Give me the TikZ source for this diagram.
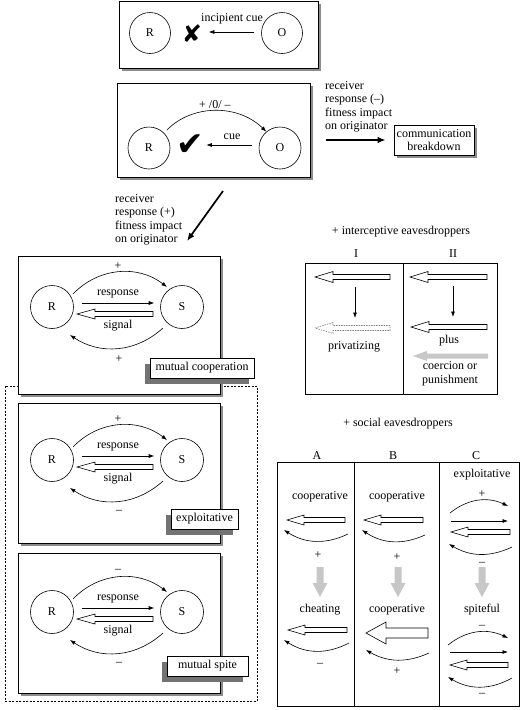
\documentclass[tikz,border=0pt]{standalone}
\usepackage{fontspec}
\setmainfont{Liberation Serif}
\newfontfamily\symfont{DejaVu Sans}
\usetikzlibrary{arrows.meta,shadows}
\newcommand{\holarrow}[7][hol]{%
  \path[#1] (#2,#4) -- (#2+#7,#4-#6) -- (#2+#7,#4-#5) -- (#3,#4-#5) -- (#3,#4+#5) -- (#2+#7,#4+#5) -- (#2+#7,#4+#6) -- cycle;}
\newcommand{\downgray}[1]{%
  \fill[black!22] (#1-3.5,567) -- (#1+3.5,567) -- (#1+3.5,583) -- (#1+7.5,583) -- (#1,597) -- (#1-7.5,583) -- (#1-3.5,583) -- cycle;}
\newcommand{\rsbox}[9]{%
  \fill[shad] (20.5,#2+2.5) rectangle (222.5,#3+2.5);
  \draw[box] (18,#2) rectangle (220,#3);
  \node[circ,minimum size=43pt] (R#1) at (52,#4) {R};
  \node[circ,minimum size=43pt] (S#1) at (182,#4) {S};
  \draw[arr] ([shift={(21,-13)}]R#1.center) to[bend left=42] ([shift={(-15,-20)}]S#1.center);
  \node at (118,#4-41) {#5};
  \draw[arr] ([xshift=8pt,yshift=4pt]R#1.east) -- ([xshift=-6pt,yshift=4pt]S#1.west);
  \node at (118,#4-13) {response};
  \holarrow{77}{153}{#4+7}{2.5}{5}{18}
  \node at (118,#4+19) {signal};
  \draw[arr] ([shift={(-19,21)}]S#1.center) to[bend left=38] ([shift={(18,28)}]R#1.center);
  \node at (119,#4+52) {#6};
  \node[lab,minimum width=#9] (L#1) at (#8) {#7};
}
\begin{document}
\begin{tikzpicture}[x=1pt,y=-1pt,
  font=\fontsize{12}{13.5}\selectfont,
  arr/.style={-{Latex[length=5.5pt,width=4pt]}, line width=0.6pt},
  thickarr/.style={-{Latex[length=8pt,width=6.5pt]}, line width=1.7pt},
  circ/.style={circle,draw,line width=0.6pt,inner sep=0pt,fill=white},
  box/.style={draw,line width=0.7pt,fill=white},
  shad/.style={fill=black!45},
  hol/.style={draw,line width=0.6pt,fill=white},
  dhol/.style={draw=black!50,dash pattern=on 1.5pt off 1pt,line width=0.6pt,fill=white},
  lab/.style={draw,line width=0.6pt,fill=white,minimum height=20pt,inner xsep=3pt,
    drop shadow={shadow xshift=-5pt,shadow yshift=-6pt,opacity=1,fill=black!55}}]
\useasboundingbox (0,0) rectangle (521,710);

% ---- top box
\fill[shad] (121.5,3.5) rectangle (320.5,70.5);
\draw[box] (119,1) rectangle (318,68);
\node[circ,minimum size=41pt] (R1) at (150,33) {R};
\node[circ,minimum size=41pt] (O1) at (282,33) {O};
\node[font=\symfont\fontsize{24}{24}\selectfont] (X1) at (192,34) {✘};
\draw[arr] ([xshift=-7pt,yshift=1pt]O1.west) -- ([xshift=38pt,yshift=1pt]R1.east);
\node (ic) at (232,19) {incipient cue};

% ---- second box
\fill[shad] (119.5,85.5) rectangle (312.5,179.5);
\draw[box] (117,83) rectangle (310,177);
\node[circ,minimum size=42pt] (R2) at (149,148) {R};
\node[circ,minimum size=42pt] (O2) at (280,148) {O};
\draw[arr,shorten <=4pt] (R2.45) to[bend left=45] node[above,inner sep=2pt]{+ /0/ –} (O2.130);
\node[font=\symfont\fontsize{33}{33}\selectfont] (CK) at (190,145) {✔};
\draw[arr] ([xshift=-7pt,yshift=3pt]O2.west) -- ([xshift=36pt,yshift=3pt]R2.east);
\node (cue) at (232,137) {cue};

% ---- breakdown
\node[anchor=north west,align=left,inner sep=0pt] (T1) at (325,81) {receiver\\response (–)\\fitness impact\\on originator};
\fill[shad] (396.5,127.5) rectangle (476.5,157.5);
\node[box,align=center,minimum width=80pt,minimum height=30pt,inner sep=2pt] (CB) at (434,140) {communication\\breakdown};
\coordinate (a1) at (326,140);
\draw[thickarr] (a1) -- ([xshift=-8pt]CB.west);

% ---- to cooperation
\node[anchor=north west,align=left,inner sep=0pt] (T2) at (115,194) {receiver\\response (+)\\fitness impact\\on originator};
\coordinate (d1) at (223,191);
\coordinate (d2) at (187,241);
\draw[thickarr] (d1) -- (d2);

% ---- dashed frame
\draw[dash pattern=on 2pt off 1.5pt,line width=0.5pt] (5,386) rectangle (257,701);

% ---- R/S boxes
\rsbox{3}{256}{394}{307}{+}{+}{mutual cooperation}{202,368}{104pt}
\rsbox{4}{403}{543}{460}{+}{–}{exploitative}{204.5,519}{67pt}
\rsbox{5}{553}{693}{612}{–}{–}{mutual spite}{207.5,666}{81pt}

% ---- interceptive eavesdroppers
\node at (401,232) {+ interceptive eavesdroppers};
\node at (356,254) {I};
\node at (453,254) {II};
\draw[line width=0.7pt] (305,263) rectangle (497,394);
\draw[line width=0.7pt] (403,263) -- (403,394);
\holarrow{315}{390}{277}{2.5}{5.5}{18}
\holarrow{410}{487}{277}{2.5}{5.5}{18}
\draw[arr] (355,287) -- (355,318);
\draw[arr] (453,286) -- (453,317);
\holarrow[dhol]{315}{390}{328}{2.5}{5.5}{18}
\node at (354,347) {privatizing};
\holarrow{411}{487}{327}{2.5}{5.5}{18}
\node at (449,341) {plus};
\fill[black!22] (413,356) -- (427,351) -- (427,353.5) -- (488,353.5) -- (488,358.5) -- (427,358.5) -- (427,361) -- cycle;
\node[align=center] at (450,374) {coercion or\\punishment};

% ---- social eavesdroppers
\node at (398,424) {+ social eavesdroppers};
\node at (317,456) {A};
\node at (393,456) {B};
\node at (476,456) {C};
\draw[line width=0.7pt] (277,462) rectangle (519,706);
\draw[line width=0.7pt] (354,462) -- (354,706);
\draw[line width=0.7pt] (439,462) -- (439,706);
% A
\node at (320,497) {cooperative};
\holarrow{287}{345}{520}{2.5}{5}{17}
\draw[arr] (348,534) to[bend left=29] (284,530);
\node at (318,555) {+};
\downgray{320}
\node at (320,610) {cheating};
\holarrow{288}{347}{630}{2.5}{5}{17}
\draw[arr] (349,643) to[bend left=30] (284,640);
\node at (320,665) {–};
% B
\node at (397,497) {cooperative};
\holarrow{364}{423}{520}{2.5}{5}{17}
\draw[arr] (425,535) to[bend left=29] (362,530);
\node at (397,557) {+};
\downgray{398}
\node at (397,610) {cooperative};
\holarrow{366}{428}{633}{5}{11}{20}
\draw[arr] (429,653) to[bend left=27] (366,650);
\node at (397,671) {+};
% C
\node at (482,475) {exploitative};
\node at (482,494) {+};
\draw[arr] (450,513) to[bend left=32] (508,506);
\draw[arr] (451,521) -- (508,521);
\holarrow{451}{510}{532}{2.5}{5}{17}
\draw[arr] (512,547) to[bend left=28] (449,544);
\node at (482,564) {–};
\downgray{482}
\node at (482,610) {spiteful};
\node at (482,627) {–};
\draw[arr] (448,645) to[bend left=32] (508,638);
\draw[arr] (450,652) -- (508,652);
\holarrow{450}{508}{665}{2.5}{5}{17}
\draw[arr] (512,678) to[bend left=30] (448,677);
\node at (482,695) {–};
\end{tikzpicture}
\end{document}
